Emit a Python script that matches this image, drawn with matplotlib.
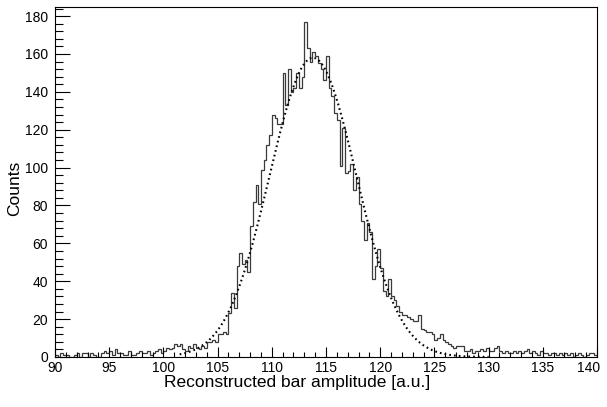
import numpy as np
import matplotlib
matplotlib.use("Agg")
import matplotlib.pyplot as plt
from matplotlib.ticker import MultipleLocator

plt.rcParams['font.family'] = ['Liberation Sans', 'DejaVu Sans']

# histogram: 200 bins from 90 to 140
x_lo, x_hi, n_bins = 90.0, 140.0, 200
counts = [
    1, 0, 2, 1, 1, 0, 0, 1,        # 90-92
    2, 0, 2, 2, 0, 2, 1, 0,        # 92-94
    0, 2, 3, 2, 3, 1, 4, 2,        # 94-96
    2, 1, 1, 3, 1, 1, 2, 3,        # 96-98
    2, 2, 3, 1, 2, 3, 4, 2,        # 98-100
    3, 5, 4, 5, 7, 6, 7, 4,        # 100-102
    3, 6, 5, 7, 5, 4, 6, 5,        # 102-104
    8, 8, 9, 8,                    # 104-105
    12, 12, 13, 12,                # 105-106
    23, 34, 26, 48,                # 106-107
    55, 49, 51, 45,                # 107-108
    69, 82, 91, 81,                # 108-109
    99, 104, 112, 117,             # 109-110
    128, 126, 123, 123,            # 110-111
    150, 133, 152, 140,            # 111-112
    142, 150, 142, 148,            # 112-113
    177, 163, 156, 161,            # 113-114
    159, 155, 152, 146,            # 114-115
    159, 142, 138, 129,            # 115-116
    125, 101, 121, 97,             # 116-117
    98, 102, 88, 95,               # 117-118
    81, 72, 62, 71,                # 118-119
    66, 41, 48, 57,                # 119-120
    47, 35, 32, 41,                # 120-121
    32, 30, 27, 24,                # 121-122
    22, 22, 21, 20,                # 122-123
    19, 19, 22, 15,                # 123-124
    14, 13, 13, 12,                # 124-125
    9, 10, 12, 9,                  # 125-126
    8, 7, 6, 5,                    # 126-127
    6, 6, 6, 3,                    # 127-128
    3, 4, 2, 3, 3, 4, 3, 5,        # 128-130
    3, 3, 5, 6, 3, 2, 3, 2,        # 130-132
    2, 3, 2, 3, 2, 3, 4, 2,        # 132-134
    3, 2, 1, 3, 2, 2, 1, 2,        # 134-136
    2, 1, 2, 1, 2, 1, 2, 0,        # 136-138
    1, 2, 1, 0, 1, 2, 2, 1,        # 138-140
]
x_ticks = [90, 95, 100, 105, 110, 115, 120, 125, 130, 135, 140]

# gaussian fit
fit_amp, fit_mean, fit_sigma = 158.0, 113.8, 4.0
fit_lo, fit_hi = 101.5, 130.0

edges = np.linspace(x_lo, x_hi, n_bins + 1)

fig = plt.figure(figsize=(6.07, 4.07), dpi=100)
ax = fig.add_axes([55 / 607, 50 / 407, 542 / 607, 350 / 407])

ax.stairs(counts, edges, color='#3a3a3a', linewidth=0.9, baseline=0)

xf = np.linspace(fit_lo, fit_hi, 400)
yf = fit_amp * np.exp(-0.5 * ((xf - fit_mean) / fit_sigma) ** 2)
ax.plot(xf, yf, color='black', linewidth=1.5, linestyle=(0, (0.8, 1.5)))

ax.set_xlim(x_lo, x_hi)
ax.set_ylim(0, 184.8)

ax.set_xticks(x_ticks)
ax.xaxis.set_minor_locator(MultipleLocator(1))
ax.yaxis.set_major_locator(MultipleLocator(20))
ax.yaxis.set_minor_locator(MultipleLocator(4))

ax.tick_params(axis='x', which='major', direction='in', length=7.5, width=0.8, labelbottom=False)
ax.tick_params(axis='x', which='minor', direction='in', length=3.8, width=0.8)
ax.tick_params(axis='y', which='major', direction='in', length=11, width=0.8, labelsize=10, pad=5)
ax.tick_params(axis='y', which='minor', direction='in', length=5.5, width=0.8)
ax.tick_params(top=False, right=False, which='both')

# x labels drawn by hand so the last one stays inside the canvas
for t in x_ticks:
    dx = -6 if t == x_ticks[-1] else 0
    ax.annotate(str(t), xy=(t, 0), xycoords=('data', 'axes fraction'),
                xytext=(dx, -3), textcoords='offset points',
                ha='center', va='top', fontsize=10)

for s in ax.spines.values():
    s.set_linewidth(0.8)

fig.text(297 / 607, 1 - 383 / 407, "Reconstructed bar amplitude [a.u.]",
         ha='center', va='center', fontsize=12.5)
fig.text(15 / 607, 1 - 188 / 407, "Counts", rotation=90,
         ha='center', va='center', fontsize=12.5)

fig.savefig("out.png", dpi=100)
